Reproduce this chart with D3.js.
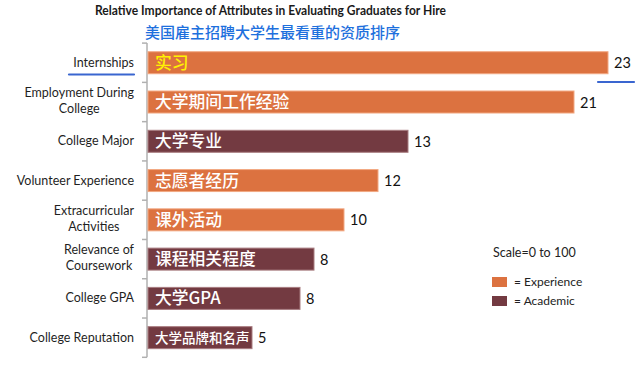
<!DOCTYPE html>
<html><head><meta charset="utf-8">
<script src="https://cdn.jsdelivr.net/npm/d3@7"></script>
<style>body{margin:0;background:#fff}svg{display:block}</style>
</head><body>
<svg id="c" width="637" height="382"></svg>
<script>
const categories = ["Internships", "Employment During\nCollege", "College Major", "Volunteer Experience", "Extracurricular\nActivities", "Relevance of\nCoursework", "College GPA", "College Reputation"];
const chineseLabels = ["实习", "大学期间工作经验", "大学专业", "志愿者经历", "课外活动", "课程相关程度", "大学GPA", "大学品牌和名声"];
const values = [23.0, 21.3, 13.0, 11.5, 9.8, 8.3, 7.6, 5.2];
const types = ["Experience", "Experience", "Academic", "Experience", "Experience", "Academic", "Academic", "Academic"];
const legendItems = ["Experience", "Academic"];
const title = "Relative Importance of Attributes in Evaluating Graduates for Hire";
const subtitle = "美国雇主招聘大学生最看重的资质排序";
const scaleNote = "Scale=0 to 100";

const fill = {Experience: "#DC7240", Academic: "#733A41"};
const stroke = {Experience: "#F2A882", Academic: "#A87C80"};

const svg = d3.select("#c");
const x = d3.scaleLinear().domain([0, 25]).range([148, 648]);
const y = d3.scaleBand().domain(categories).range([43.1, 357.3]).paddingInner(0.44).paddingOuter(0.22);

// Titles
svg.append("text").attr("x", 270.5).attr("y", 15).attr("text-anchor", "middle")
  .attr("font-family", "Lato, 'Open Sans', sans-serif").attr("font-weight", "bold").attr("font-size", 13.5)
  .attr("fill", "#1a1a1a").attr("textLength", 351).attr("lengthAdjust", "spacingAndGlyphs").text(title);
svg.append("text").attr("x", 272.5).attr("y", 38).attr("text-anchor", "middle")
  .attr("font-family", "'Noto Sans CJK SC', sans-serif").attr("font-size", 15).attr("font-weight", 500)
  .attr("fill", "#1E70DD").text(subtitle);

// Axis line + ticks at band boundaries
const step = y.step();
const y0 = y.range()[0];
const axisG = svg.append("g").attr("stroke", "#b0b0b0").attr("stroke-width", 1.5);
axisG.append("line").attr("x1", 147).attr("x2", 147).attr("y1", y0).attr("y2", y0 + step * categories.length);
axisG.selectAll("line.tick").data(d3.range(categories.length + 1)).join("line").attr("class", "tick")
  .attr("x1", 142).attr("x2", 147).attr("y1", i => y0 + i * step).attr("y2", i => y0 + i * step);

// Bars
const rows = categories.map((c, i) => ({c, zh: chineseLabels[i], v: values[i], t: types[i]}));
svg.selectAll("rect.bar").data(rows).join("rect").attr("class", "bar")
  .attr("x", x(0)).attr("y", d => y(d.c)).attr("width", d => x(d.v) - x(0)).attr("height", y.bandwidth())
  .attr("fill", d => fill[d.t]).attr("stroke", d => stroke[d.t]).attr("stroke-width", 1);

// Chinese labels inside bars
svg.selectAll("text.zh").data(rows).join("text").attr("class", "zh")
  .attr("x", x(0) + 7).attr("y", d => y(d.c) + y.bandwidth() / 2).attr("dy", "0.36em")
  .attr("font-family", "'Noto Sans CJK SC', sans-serif").attr("font-weight", 500)
  .attr("font-size", (d, i) => i === rows.length - 1 ? 13.5 : 16.8)
  .attr("fill", (d, i) => i === 0 ? "#FFF200" : "#fff").text(d => d.zh);

// Value labels
svg.selectAll("text.val").data(rows).join("text").attr("class", "val")
  .attr("x", d => x(d.v) + 6).attr("y", d => y(d.c) + y.bandwidth() / 2).attr("dy", "0.38em")
  .attr("font-family", "Lato, 'Open Sans', sans-serif").attr("font-size", 14.5).attr("fill", "#111")
  .text(d => d3.format(".0f")(Math.round(d.v)));

// Category labels
const labelRight = 134;
rows.forEach(d => {
  const lines = d.c.split("\n");
  const cy = y(d.c) + y.bandwidth() / 2;
  const g = svg.append("g");
  const ts = lines.map((l, k) => g.append("text")
    .attr("y", lines.length === 1 ? cy + 4 : cy - 5 + k * 16.3)
    .attr("font-family", "Lato, 'Open Sans', sans-serif").attr("font-size", 12.5).attr("fill", "#1f1f1f").text(l));
  if (lines.length === 1) {
    ts[0].attr("x", labelRight).attr("text-anchor", "end");
  } else {
    const w = d3.max(ts, t => t.node().getComputedTextLength());
    ts.forEach(t => t.attr("x", labelRight - w / 2).attr("text-anchor", "middle"));
  }
});

// Blue underlines
svg.append("line").attr("x1", 69).attr("x2", 134).attr("y1", 74.5).attr("y2", 74.5)
  .attr("stroke", "#3A66D0").attr("stroke-width", 2.2).attr("stroke-linecap", "round");
svg.append("line").attr("x1", 598).attr("x2", 634).attr("y1", 82).attr("y2", 82)
  .attr("stroke", "#3A66D0").attr("stroke-width", 2.2).attr("stroke-linecap", "round");

// Legend
svg.append("text").attr("x", 493).attr("y", 257).attr("font-family", "Lato, 'Open Sans', sans-serif")
  .attr("font-size", 12.5).attr("fill", "#222").text(scaleNote);
const lg = svg.selectAll("g.lg").data(legendItems).join("g").attr("class", "lg")
  .attr("transform", (d, i) => `translate(492,${277 + i * 19})`);
lg.append("rect").attr("width", 15).attr("height", 10).attr("fill", d => fill[d]);
lg.append("text").attr("x", 22).attr("y", 9).attr("font-family", "Lato, 'Open Sans', sans-serif")
  .attr("font-size", 12).attr("fill", "#222").text(d => "= " + d);
</script>
</body></html>
